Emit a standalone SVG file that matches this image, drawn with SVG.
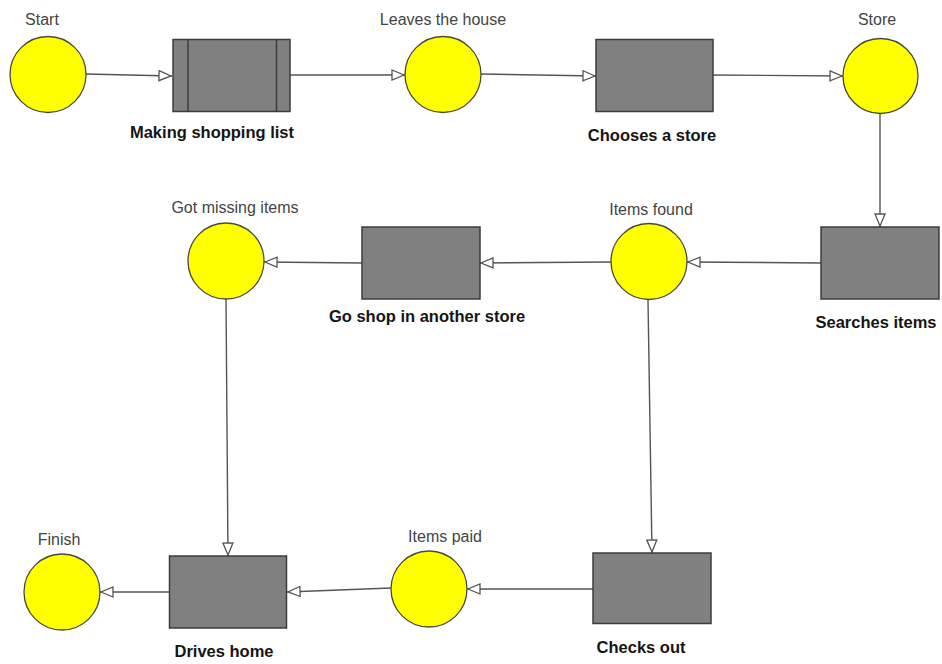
<svg xmlns="http://www.w3.org/2000/svg" width="942" height="664" viewBox="0 0 942 664">
<defs>
<marker id="arr" viewBox="0 0 14 12" refX="14" refY="6" markerWidth="14" markerHeight="12" markerUnits="userSpaceOnUse" orient="auto">
<path d="M1,1 L13,6 L1,11 z" fill="#ffffff" stroke="#555555" stroke-width="1.3"/>
</marker>
<style>
.state{fill:#ffff00;stroke:#4a4a3a;stroke-width:1.3}
.act{fill:#808080;stroke:#3c3c3c;stroke-width:1.5}
.bar{stroke:#3c3c3c;stroke-width:1.5}
.lbl{font-family:"Liberation Sans",Arial,sans-serif;font-size:16px;fill:#444444;text-anchor:middle}
.blbl{font-family:"Liberation Sans",Arial,sans-serif;font-size:16.5px;font-weight:bold;fill:#151515;text-anchor:middle}
.edge{fill:none;stroke:#555555;stroke-width:1.4;marker-end:url(#arr)}
</style>
</defs>
<rect width="942" height="664" fill="#ffffff"/>
<g id="connectors">
<path class="edge" d="M86,74 L172,76"/>
<path class="edge" d="M290,75 L405,75"/>
<path class="edge" d="M481,74 L596,76"/>
<path class="edge" d="M713,75 L843,76"/>
<path class="edge" d="M880,114 L880,227"/>
<path class="edge" d="M821,263 L687,262"/>
<path class="edge" d="M611,262 L480,263"/>
<path class="edge" d="M362,263 L264,262"/>
<path class="edge" d="M226,299 L228,556"/>
<path class="edge" d="M648,300 L652,553"/>
<path class="edge" d="M593,589 L467,589"/>
<path class="edge" d="M391,588 L287,592"/>
<path class="edge" d="M169,592 L100,592"/>
</g>
<g id="start">
<circle class="state" cx="48" cy="74.5" r="38"/>
<text class="lbl" x="42" y="25">Start</text>
</g>
<g id="making-list">
<rect class="act" x="173" y="39.5" width="117" height="72"/>
<line class="bar" x1="188" y1="39.5" x2="188" y2="111.5"/>
<line class="bar" x1="276.5" y1="39.5" x2="276.5" y2="111.5"/>
<text class="blbl" x="212" y="138">Making shopping list</text>
</g>
<g id="leaves-house">
<circle class="state" cx="443" cy="74.5" r="38"/>
<text class="lbl" x="443" y="25">Leaves the house</text>
</g>
<g id="chooses-store">
<rect class="act" x="596" y="39.5" width="117" height="72"/>
<text class="blbl" x="652" y="141">Chooses a store</text>
</g>
<g id="store">
<circle class="state" cx="880.5" cy="76" r="37.5"/>
<text class="lbl" x="877" y="25">Store</text>
</g>
<g id="searches-items">
<rect class="act" x="821" y="227" width="118" height="72"/>
<text class="blbl" x="876" y="328">Searches items</text>
</g>
<g id="items-found">
<circle class="state" cx="649" cy="261.5" r="38"/>
<text class="lbl" x="651" y="215">Items found</text>
</g>
<g id="go-shop">
<rect class="act" x="362" y="227" width="118" height="72"/>
<text class="blbl" x="427" y="322">Go shop in another store</text>
</g>
<g id="got-missing">
<circle class="state" cx="226" cy="261" r="38"/>
<text class="lbl" x="235" y="213">Got missing items</text>
</g>
<g id="checks-out">
<rect class="act" x="593" y="553" width="118" height="70.5"/>
<text class="blbl" x="641" y="653">Checks out</text>
</g>
<g id="items-paid">
<circle class="state" cx="429" cy="589" r="38"/>
<text class="lbl" x="445" y="542">Items paid</text>
</g>
<g id="drives-home">
<rect class="act" x="169.5" y="556" width="117" height="72"/>
<text class="blbl" x="224" y="657">Drives home</text>
</g>
<g id="finish">
<circle class="state" cx="62" cy="592" r="38"/>
<text class="lbl" x="59" y="545">Finish</text>
</g>
</svg>
